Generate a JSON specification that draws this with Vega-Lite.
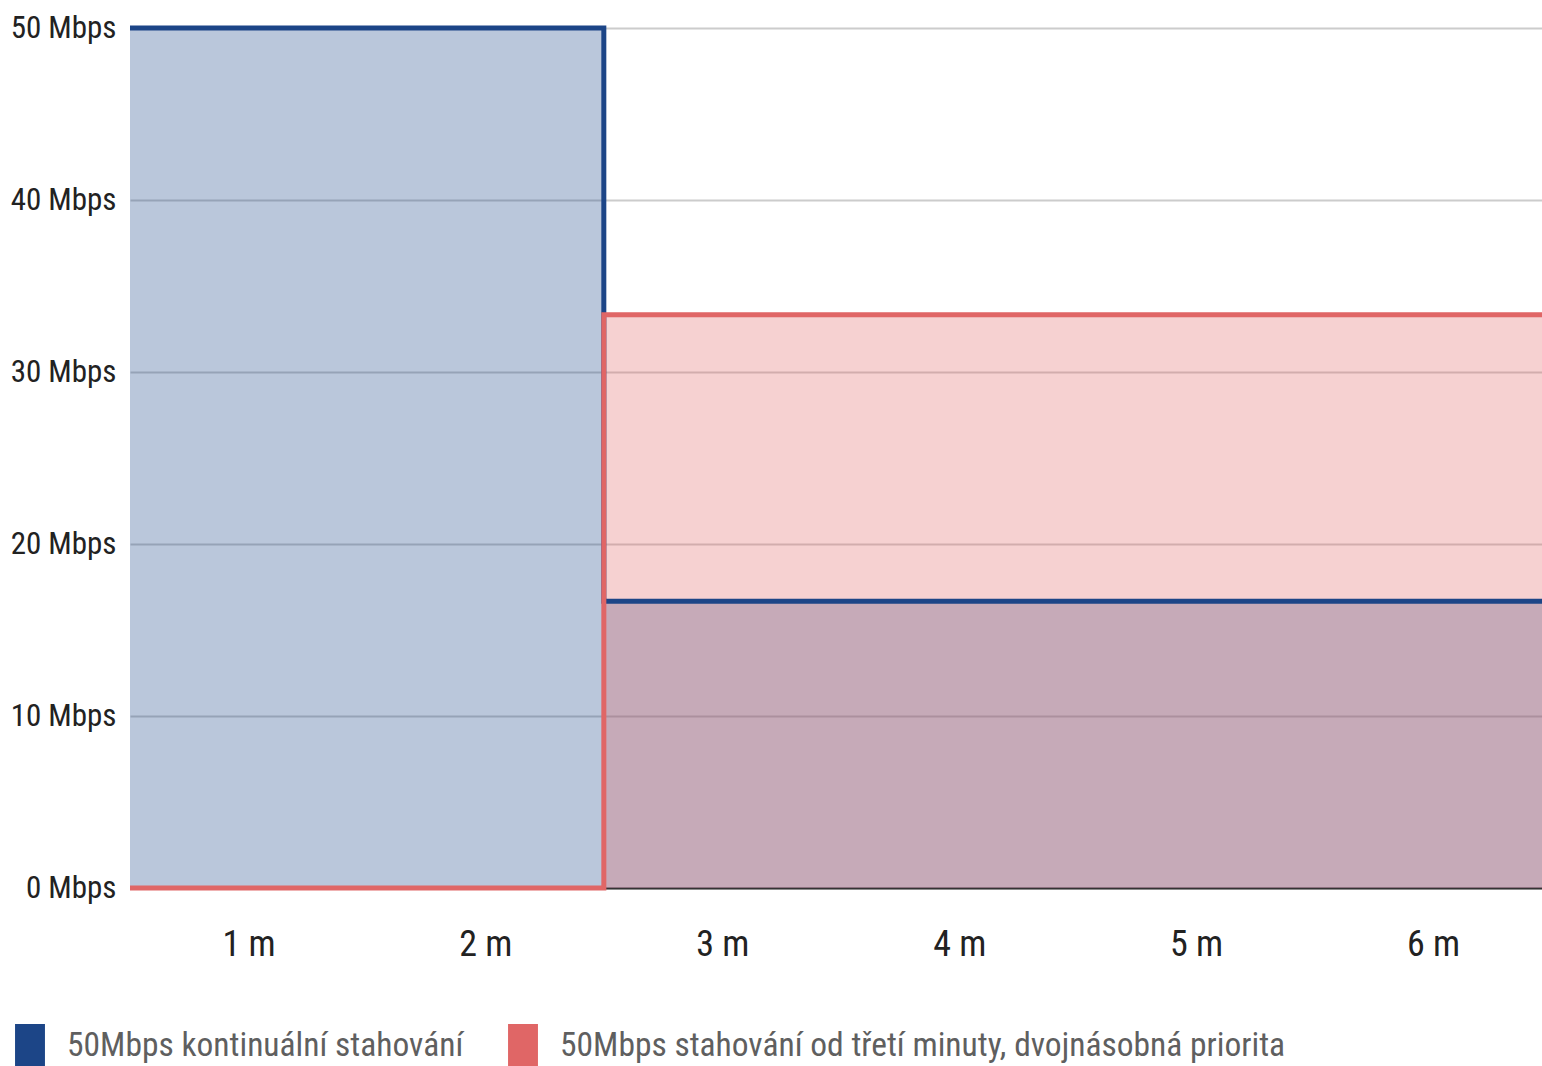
{
  "$schema": "https://vega.github.io/schema/vega-lite/v6.json",
  "width": 1412,
  "height": 860,
  "autosize": {"type": "none"},
  "padding": {"left": 130, "top": 28, "right": 0, "bottom": 178},
  "background": "white",
  "config": {
    "view": {"stroke": null},
    "font": "Roboto Condensed, Roboto",
    "axis": {"labelFont": "Roboto Condensed, Roboto", "labelColor": "#222222"}
  },
  "data": {
    "values": [
      {"minute": 0, "rate": 50, "series": "50Mbps kontinuální stahování"},
      {"minute": 2, "rate": 16.67, "series": "50Mbps kontinuální stahování"},
      {"minute": 6, "rate": 16.67, "series": "50Mbps kontinuální stahování"},
      {"minute": 0, "rate": 0, "series": "50Mbps stahování od třetí minuty, dvojnásobná priorita"},
      {"minute": 2, "rate": 33.33, "series": "50Mbps stahování od třetí minuty, dvojnásobná priorita"},
      {"minute": 6, "rate": 33.33, "series": "50Mbps stahování od třetí minuty, dvojnásobná priorita"}
    ]
  },
  "mark": {
    "type": "area",
    "interpolate": "step-after",
    "fillOpacity": 0.3,
    "clip": false,
    "line": {"strokeWidth": 5, "interpolate": "step-after"}
  },
  "encoding": {
    "x": {
      "field": "minute",
      "type": "quantitative",
      "scale": {"domain": [0, 5.96], "nice": false, "zero": false},
      "axis": {
        "title": null,
        "values": [0.5, 1.5, 2.5, 3.5, 4.5, 5.5],
        "labelExpr": "(datum.value + 0.5) + ' m'",
        "labelFontSize": 36,
        "labelPadding": 39,
        "ticks": false,
        "grid": false,
        "domainColor": "#333333",
        "domainWidth": 2
      }
    },
    "y": {
      "field": "rate",
      "type": "quantitative",
      "stack": null,
      "scale": {"domain": [0, 50], "nice": false},
      "axis": {
        "title": null,
        "values": [0, 10, 20, 30, 40, 50],
        "labelExpr": "datum.value + ' Mbps'",
        "labelFontSize": 31,
        "labelPadding": 14,
        "ticks": false,
        "domain": false,
        "gridColor": "#cccccc",
        "gridWidth": 2
      }
    },
    "color": {
      "field": "series",
      "type": "nominal",
      "scale": {
        "domain": ["50Mbps kontinuální stahování", "50Mbps stahování od třetí minuty, dvojnásobná priorita"],
        "range": ["#1c4587", "#e06666"]
      },
      "legend": {
        "title": null,
        "orient": "none",
        "direction": "horizontal",
        "legendX": -122,
        "legendY": 996,
        "symbolType": "M-0.68,-1H0.68V1H-0.68Z",
        "symbolSize": 1936,
        "symbolOpacity": 1,
        "symbolStrokeWidth": 0,
        "labelFont": "Roboto Condensed, Roboto",
        "labelFontSize": 33.5,
        "labelColor": "#5f5f5f",
        "labelOffset": 15,
        "labelLimit": 1000,
        "columnPadding": 37,
        "encode": {"symbols": {"update": {"fillOpacity": {"value": 1}, "opacity": {"value": 1}}}}
      }
    }
  }
}
